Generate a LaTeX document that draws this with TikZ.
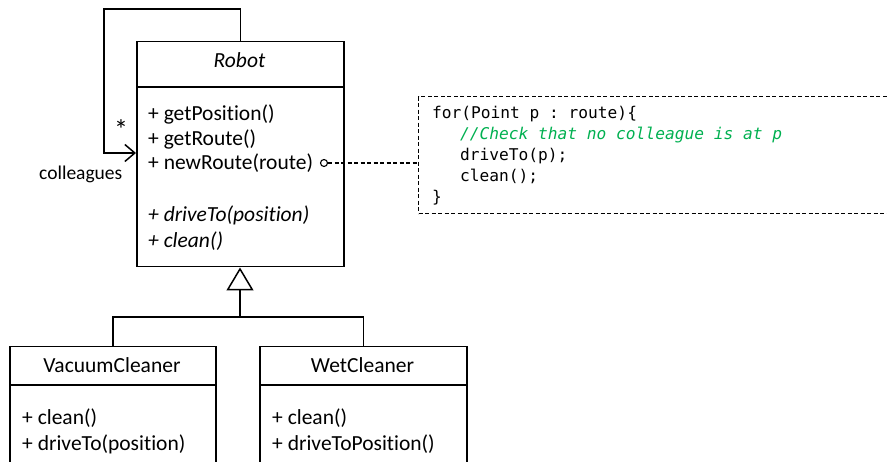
\documentclass[tikz,border=0pt]{standalone}
\usepackage{fontspec}
\setmainfont{Carlito}[Ligatures=NoCommon]
\newfontfamily\codefont{DejaVu Sans Mono}
\usetikzlibrary{arrows.meta,calc}
\definecolor{cgreen}{HTML}{00B050}
\begin{document}
\begin{tikzpicture}[x=1pt,y=-1pt,
  font=\fontsize{21.5}{25}\selectfont,
  umlbox/.style={draw,line width=1.5pt,rectangle,inner sep=0pt,anchor=north west},
  notebox/.style={draw,line width=1.1pt,dash pattern=on 4pt off 2.5pt,rectangle,inner sep=0pt,anchor=north west},
  conn/.style={line width=1.5pt},
  dashconn/.style={line width=1.1pt,dash pattern=on 4pt off 2.5pt},
  txt/.style={anchor=base west,inner sep=0pt},
  ttl/.style={anchor=base,inner sep=0pt},
  code/.style={anchor=base west,inner sep=0pt,font=\codefont\fontsize{16.2}{21}\selectfont\frenchspacing},
  assoc/.style={conn,-{Straight Barb[length=10pt,width=17pt,line width=1.5pt]}},
  inh/.style={conn,-{Triangle[open,length=23pt,width=27pt,line width=1.5pt]}}
]
\useasboundingbox (0,0) rectangle (887,462);
% boxes
\node[umlbox,minimum width=207pt,minimum height=225pt] (robot) at (136,41) {};
\node[umlbox,minimum width=206pt,minimum height=160pt] (vac) at (9,346) {};
\node[umlbox,minimum width=207pt,minimum height=160pt] (wet) at (259,346) {};
\node[notebox,minimum width=520pt,minimum height=117pt] (note) at (418,96) {};
% dividers
\draw[conn] ($(robot.north west)+(0,46)$) -- ($(robot.north east)+(0,46)$);
\draw[conn] ($(vac.north west)+(0,39)$) -- ($(vac.north east)+(0,39)$);
\draw[conn] ($(wet.north west)+(0,39)$) -- ($(wet.north east)+(0,39)$);
% Robot texts
\node[ttl,font=\fontsize{21.5}{25}\selectfont\itshape] (rtitle) at (239.5,68) {Robot};
\node[txt] (m1) at (148,121) {+ getPosition()};
\node[txt] (m2) at (148,146) {+ getRoute()};
\node[txt] (m3) at (148,170) {+ newRoute(route)};
\node[txt,font=\fontsize{21.5}{25}\selectfont\itshape] (m4) at (148,222) {+ driveTo(position)};
\node[txt,font=\fontsize{21.5}{25}\selectfont\itshape] (m5) at (148,248) {+ clean()};
% subclasses texts
\node[ttl] (vtitle) at (112,373) {VacuumCleaner};
\node[txt] (v1) at (22,425) {+ clean()};
\node[txt] (v2) at (22,451) {+ driveTo(position)};
\node[ttl] (wtitle) at (362.5,373) {WetCleaner};
\node[txt] (w1) at (272,425) {+ clean()};
\node[txt] (w2) at (272,451) {+ driveToPosition()};
% self association
\coordinate (ltop) at (104,9);
\coordinate (lend) at (104,153);
\draw[assoc] (robot.north) |- (ltop) -- (lend) -- (lend -| robot.west);
\node[ttl,font=\fontsize{28}{28}\selectfont] (star) at (121,140) {*};
\node[txt,font=\fontsize{19.5}{24}\selectfont] (coll) at (39,180) {colleagues};
% note link
\node[circle,draw,line width=1.1pt,minimum size=7pt,inner sep=0pt] (port) at (324,163) {};
\draw[dashconn] (port.east) -- (port -| note.west);
% code
\node[code] (c1) at (432,119) {for(Point p : route)\{};
\node[code,text=cgreen,font=\codefont\fontsize{16.2}{21}\selectfont\itshape\frenchspacing] (c2) at (460,140) {//Check that no colleague is at p};
\node[code] (c3) at (460,161) {driveTo(p);};
\node[code] (c4) at (460,182) {clean();};
\node[code] (c5) at (432,203) {\}};
% inheritance
\coordinate (join) at (240,317);
\draw[conn] (vac.north) |- (join) -| (wet.north);
\draw[inh] (join) -- (join |- robot.south);
\end{tikzpicture}
\end{document}
